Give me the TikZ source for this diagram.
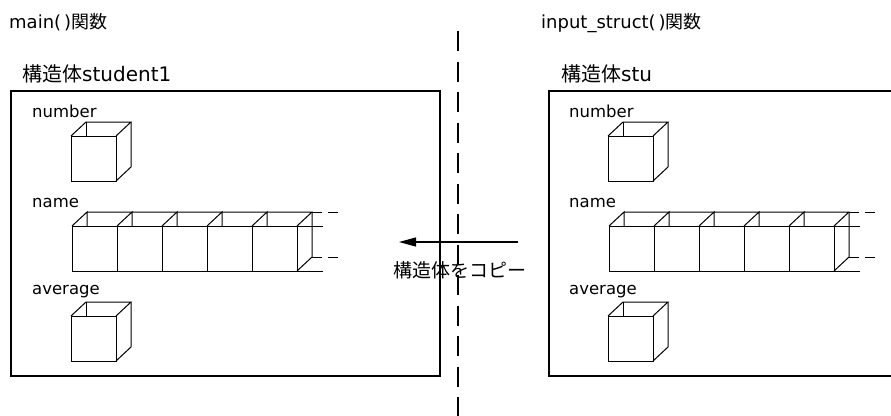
\documentclass[tikz,border=0pt]{standalone}
\usepackage{fontspec}
\setmainfont{DejaVu Sans}
\newfontfamily\cjk{Noto Sans CJK JP}
\usetikzlibrary{arrows.meta}
\tikzset{
  frame/.style={draw=black, line width=1.1pt},
  edge/.style={draw=black, line width=1pt},
  fnlabel/.style={inner sep=0pt, anchor=base west, font=\fontsize{18}{22}\selectfont},
  stlabel/.style={inner sep=0pt, anchor=base west, font=\fontsize{20}{24}\selectfont},
  fldlabel/.style={inner sep=0pt, anchor=base west, font=\fontsize{16.5}{20}\selectfont},
  cubepic/.pic={
    \draw[edge] (0,0) rectangle (45,45);
    \draw[edge] (0,0) -- (15,-14) -- (60,-14) -- (45,0);
    \draw[edge] (15,-14) -- (15,0);
    \draw[edge] (60,-14) -- (60,31) -- (45,45);
  },
  rowpic/.pic={
    \foreach \i in {0,...,4} {
      \draw[edge] (45*\i,0) rectangle (45*\i+45,45);
      \draw[edge] (45*\i,0) -- (45*\i+15,-14) -- (45*\i+15,0);
    }
    \draw[edge] (15,-14) -- (240,-14) -- (225,0);
    \draw[edge] (240,-14) -- (240,31) -- (225,45);
    \draw[edge] (225,0) -- (251,0);
    \draw[edge] (225,45) -- (251,45);
    \draw[edge] (240,-14) -- (250,-14);
    \draw[edge] (256,-14) -- (266,-14);
    \draw[edge] (240,31) -- (250,31);
    \draw[edge] (256,31) -- (266,31);
  }
}
\begin{document}
\begin{tikzpicture}[x=1pt,y=-1pt]
\clip (0,0) rectangle (891,415);
\fill[white] (0,0) rectangle (891,415);

% divider
\coordinate (dtop) at (458,31);
\coordinate (dbot) at (458,416);
\draw[line width=1.1pt, dash pattern=on 20pt off 10.5pt] (dtop) -- (dbot);

% function labels
\node[fnlabel] (fmain) at (9,28) {main(\,){\cjk 関数}};
\node[fnlabel] (finput) at (541,28) {input\_struct(\,){\cjk 関数}};

% struct labels
\node[stlabel] (smain) at (22,81) {{\cjk 構造体}student1};
\node[stlabel] (sinput) at (561,81) {{\cjk 構造体}stu};

% frames
\draw[frame] (11,91) rectangle (440,376);
\draw[frame] (549,91) rectangle (900,376);

% left struct members
\node[fldlabel] (ln) at (32,117) {number};
\pic at (71,136) {cubepic};
\node[fldlabel] (lname) at (32,207) {name};
\pic at (72,226) {rowpic};
\node[fldlabel] (lavg) at (32,294) {average};
\pic at (71,316) {cubepic};

% right struct members
\node[fldlabel] (rn) at (569,117) {number};
\pic at (608,136) {cubepic};
\node[fldlabel] (rname) at (569,207) {name};
\pic at (609,226) {rowpic};
\node[fldlabel] (ravg) at (569,294) {average};
\pic at (608,316) {cubepic};

% copy arrow
\coordinate (afrom) at (518,242);
\coordinate (ato) at (399,242);
\draw[line width=1.1pt, -{Triangle[length=17pt,width=9pt]}] (afrom) -- (ato);
\node[inner sep=0pt, font=\cjk\fontsize{19}{22}\selectfont] (copy) at (459.5,270) {構造体をコピー};
\end{tikzpicture}
\end{document}
